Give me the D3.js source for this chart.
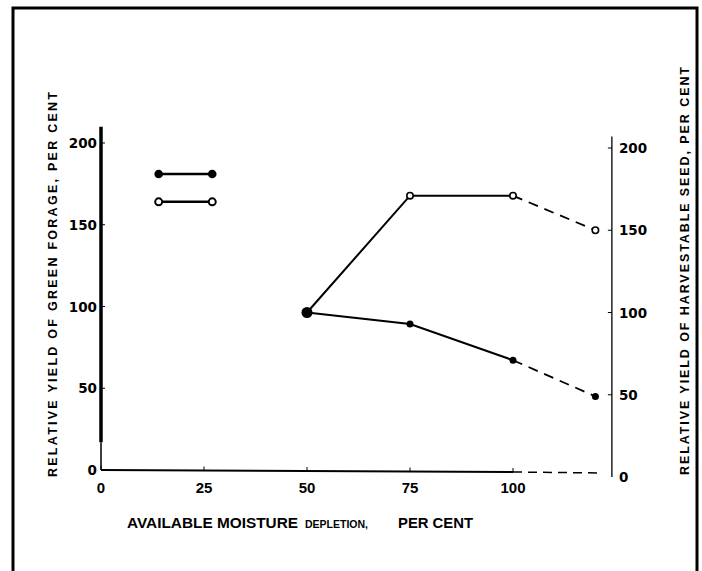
<!DOCTYPE html>
<html>
<head>
<meta charset="utf-8">
<script src="https://cdn.jsdelivr.net/npm/d3@7"></script>
<style>
  body { margin: 0; background: #fff; }
  text { fill: #000; }
</style>
</head>
<body>
<div id="chart"></div>
<script>
// values
var xTicks = [0, 25, 50, 75, 100];
var yTicks = [0, 50, 100, 150, 200];
var depletion = [50, 75, 100, 120];
var forageYield = [100, 93, 71, 49];   // closed dots
var seedYield = [100, 171, 171, 150];  // open dots
var legendX = [14, 27];
var legendY = [181, 164];               // closed, open

var width = 702, height = 571;

var svg = d3.select('#chart')
    .append('svg')
    .attr('width', width)
    .attr('height', height);

// the scan is slightly tilted, so the two vertical axes sit a little apart
var x = d3.scaleLinear().domain([0, 100]).range([101, 513]),
    yL = d3.scaleLinear().domain([0, 200]).range([470, 143]),
    yR = d3.scaleLinear().domain([0, 200]).range([477, 148]);

var xRight = x(124);

// frame
svg.append('rect')
    .attr('x', 13).attr('y', 8)
    .attr('width', 684).attr('height', 620)
    .attr('fill', 'none')
    .attr('stroke', '#000')
    .attr('stroke-width', 3);

var g = svg.append('g');

// left axis: heavy line, thin near the bottom
g.append('line')
    .attr('x1', x(0)).attr('x2', x(0))
    .attr('y1', yL(210)).attr('y2', yL(17))
    .attr('stroke', '#000').attr('stroke-width', 3.5);
g.append('line')
    .attr('x1', x(0)).attr('x2', x(0))
    .attr('y1', yL(17)).attr('y2', yL(0))
    .attr('stroke', '#000').attr('stroke-width', 1.5);

g.selectAll('.ltick')
    .data(yTicks.slice(1))
    .enter().append('line')
    .attr('x1', x(0)).attr('x2', x(0) + 4)
    .attr('y1', function (d) { return yL(d); })
    .attr('y2', function (d) { return yL(d); })
    .attr('stroke', '#000').attr('stroke-width', 1);

g.selectAll('.llabel')
    .data(yTicks)
    .enter().append('text')
    .attr('x', x(0) - 4)
    .attr('y', function (d) { return yL(d) + 5; })
    .attr('text-anchor', 'end')
    .attr('font-family', 'DejaVu Sans')
    .attr('font-weight', 'bold')
    .attr('font-size', 13.5)
    .text(function (d) { return d; });

// right axis
g.append('line')
    .attr('x1', xRight).attr('x2', xRight)
    .attr('y1', yR(207)).attr('y2', yR(0))
    .attr('stroke', '#000').attr('stroke-width', 1.3);

g.selectAll('.rtick')
    .data(yTicks.slice(1))
    .enter().append('line')
    .attr('x1', xRight - 4).attr('x2', xRight)
    .attr('y1', function (d) { return yR(d); })
    .attr('y2', function (d) { return yR(d); })
    .attr('stroke', '#000').attr('stroke-width', 1);

g.selectAll('.rlabel')
    .data(yTicks)
    .enter().append('text')
    .attr('x', xRight + 7)
    .attr('y', function (d) { return yR(d) + 5; })
    .attr('font-family', 'DejaVu Sans')
    .attr('font-weight', 'bold')
    .attr('font-size', 13.5)
    .text(function (d) { return d; });

// x axis: solid to 100, dashed beyond
g.append('line')
    .attr('x1', x(0)).attr('x2', x(100))
    .attr('y1', yL(0)).attr('y2', yL(0) + 2)
    .attr('stroke', '#000').attr('stroke-width', 2);
g.append('line')
    .attr('x1', x(100)).attr('x2', x(121))
    .attr('y1', yL(0) + 2).attr('y2', yL(0) + 3)
    .attr('stroke', '#000').attr('stroke-width', 1.5)
    .attr('stroke-dasharray', '9,6');

g.selectAll('.xtick')
    .data(xTicks)
    .enter().append('line')
    .attr('x1', function (d) { return x(d); })
    .attr('x2', function (d) { return x(d); })
    .attr('y1', function (d) { return yL(0) + d / 50; })
    .attr('y2', function (d) { return yL(0) + d / 50 - 4; })
    .attr('stroke', '#000').attr('stroke-width', 1);

g.selectAll('.xlabel')
    .data(xTicks)
    .enter().append('text')
    .attr('x', function (d) { return x(d); })
    .attr('y', yL(0) + 23)
    .attr('text-anchor', 'middle')
    .attr('font-family', 'Liberation Sans')
    .attr('font-weight', 'bold')
    .attr('font-size', 15)
    .text(function (d) { return d; });

// axis titles
var titleParts = [
    { t: 'AVAILABLE MOISTURE', x: 127, w: 171, s: 14 },
    { t: 'DEPLETION,', x: 305, w: 63, s: 10.5 },
    { t: 'PER CENT', x: 398, w: 75, s: 14 }
];
g.selectAll('.xtitle')
    .data(titleParts)
    .enter().append('text')
    .attr('x', function (d) { return d.x; })
    .attr('y', 528)
    .attr('font-family', 'Liberation Sans')
    .attr('font-weight', 'bold')
    .attr('font-size', function (d) { return d.s; })
    .attr('textLength', function (d) { return d.w; })
    .attr('lengthAdjust', 'spacingAndGlyphs')
    .text(function (d) { return d.t; });

g.append('text')
    .attr('transform', 'translate(57,477) rotate(-90)')
    .attr('font-family', 'Liberation Sans')
    .attr('font-weight', 'bold')
    .attr('font-size', 12.5)
    .attr('textLength', 385)
    .attr('lengthAdjust', 'spacing')
    .text('RELATIVE  YIELD  OF  GREEN  FORAGE,  PER  CENT');

g.append('text')
    .attr('transform', 'translate(689,475) rotate(-90)')
    .attr('font-family', 'Liberation Sans')
    .attr('font-weight', 'bold')
    .attr('font-size', 12.5)
    .attr('textLength', 408)
    .attr('lengthAdjust', 'spacing')
    .text('RELATIVE  YIELD  OF  HARVESTABLE  SEED,  PER  CENT');

// series lines
function seriesPts(vals) {
    return depletion.map(function (d, i) { return [x(d), yR(vals[i])]; });
}
var line = d3.line();

[forageYield, seedYield].forEach(function (vals) {
    var pts = seriesPts(vals);
    g.append('path')
        .attr('d', line(pts.slice(0, 3)))
        .attr('fill', 'none').attr('stroke', '#000').attr('stroke-width', 2);
    g.append('path')
        .attr('d', line(pts.slice(2)))
        .attr('fill', 'none').attr('stroke', '#000').attr('stroke-width', 1.8)
        .attr('stroke-dasharray', '10,7');
});

// markers
g.selectAll('.closed')
    .data(depletion)
    .enter().append('circle')
    .attr('cx', function (d) { return x(d); })
    .attr('cy', function (d, i) { return yR(forageYield[i]); })
    .attr('r', function (d, i) { return i === 0 ? 5.5 : 3.5; })
    .attr('fill', '#000');

g.selectAll('.open')
    .data(depletion.slice(1))
    .enter().append('circle')
    .attr('cx', function (d) { return x(d); })
    .attr('cy', function (d, i) { return yR(seedYield[i + 1]); })
    .attr('r', 3.2)
    .attr('fill', '#fff')
    .attr('stroke', '#000').attr('stroke-width', 1.6);

// key
legendY.forEach(function (v, k) {
    g.append('line')
        .attr('x1', x(legendX[0])).attr('x2', x(legendX[1]))
        .attr('y1', yL(v)).attr('y2', yL(v))
        .attr('stroke', '#000').attr('stroke-width', 2.5);
    legendX.forEach(function (lx) {
        g.append('circle')
            .attr('cx', x(lx)).attr('cy', yL(v))
            .attr('r', k === 0 ? 4.3 : 3.5)
            .attr('fill', k === 0 ? '#000' : '#fff')
            .attr('stroke', '#000').attr('stroke-width', k === 0 ? 0 : 2);
    });
});
</script>
</body>
</html>
